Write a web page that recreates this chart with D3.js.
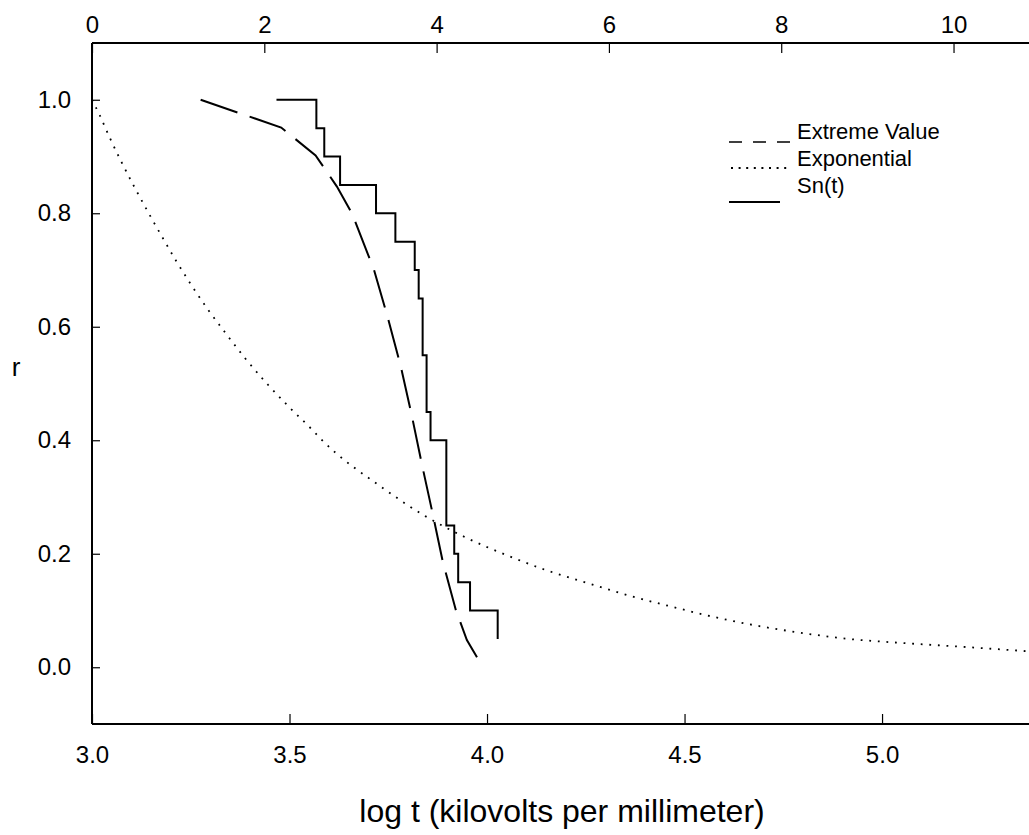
<!DOCTYPE html>
<html>
<head>
<meta charset="utf-8">
<script src="https://cdn.jsdelivr.net/npm/d3@7"></script>
<style>
  html, body { margin: 0; padding: 0; background: #fff; }
  svg { display: block; }
  text { font-family: "Liberation Sans", Arial, Helvetica, sans-serif; fill: #000; }
</style>
</head>
<body>
<svg id="chart" width="1029" height="835"></svg>
<script>
// ---- data ----
// Empirical survival function Sn(t): step positions (log t) and value after each step
const stepLogT = [3.467, 3.568, 3.588, 3.628, 3.719, 3.768, 3.817, 3.827, 3.837, 3.847, 3.857, 3.897, 3.917, 3.927, 3.957, 4.027];
const stepR    = [1.00, 0.95, 0.90, 0.85, 0.80, 0.75, 0.70, 0.65, 0.55, 0.45, 0.40, 0.25, 0.20, 0.15, 0.10, 0.05];

// Extreme value fit (dashed)
const evLogT = [3.275, 3.479, 3.566, 3.620, 3.658, 3.714, 3.750, 3.782, 3.810, 3.835, 3.862, 3.888, 3.921, 3.949, 3.977];
const evR    = [1.000, 0.951, 0.902, 0.847, 0.800, 0.700, 0.613, 0.529, 0.442, 0.358, 0.272, 0.186, 0.101, 0.048, 0.015];

// Exponential fit (dotted)
const expLogT = [3.000, 3.020, 3.047, 3.077, 3.109, 3.142, 3.177, 3.213, 3.252, 3.294, 3.339, 3.387, 3.440, 3.497, 3.558, 3.577,
                 3.740, 3.842, 3.945, 4.048, 4.150, 4.256, 4.361, 4.466, 4.572, 4.677, 4.782, 4.914, 5.046, 5.204, 5.372];
const expR    = [1.000, 0.972, 0.930, 0.887, 0.844, 0.802, 0.759, 0.716, 0.673, 0.630, 0.588, 0.545, 0.502, 0.460, 0.418, 0.404,
                 0.314, 0.267, 0.229, 0.198, 0.171, 0.148, 0.126, 0.107, 0.089, 0.074, 0.062, 0.050, 0.043, 0.036, 0.028];

// Axes
const xTicksBottom = [3.0, 3.5, 4.0, 4.5, 5.0];
const xTicksTop    = [0, 2, 4, 6, 8, 10];
const yTicks       = [0.0, 0.2, 0.4, 0.6, 0.8, 1.0];
const xDomain      = [3.0, 5.372];
const xTopDomain   = [0, 10.876];
const yDomain      = [-0.1, 1.1];

const legendLabels = ["Extreme Value", "Exponential", "Sn(t)"];
const xTitle = "log t (kilovolts per millimeter)";
const yTitle = "r";

// ---- layout ----
const W = 1029, H = 835;
const pLeft = 92, pRight = 1029, pTop = 43, pBottom = 724;

const svg = d3.select("#chart");
const x = d3.scaleLinear().domain(xDomain).range([pLeft, pRight]);
const xTop = d3.scaleLinear().domain(xTopDomain).range([pLeft, pRight]);
const y = d3.scaleLinear().domain(yDomain).range([pBottom, pTop]);

const tickFont = 24;

// bottom axis
const gB = svg.append("g").attr("transform", `translate(0,${pBottom})`)
  .call(d3.axisBottom(x).tickValues(xTicksBottom).tickFormat(d3.format(".1f")).tickSizeInner(-10).tickSizeOuter(0).tickPadding(22));
// top axis
const gT = svg.append("g").attr("transform", `translate(0,${pTop})`)
  .call(d3.axisTop(xTop).tickValues(xTicksTop).tickFormat(d3.format("d")).tickSizeInner(-10).tickSizeOuter(0).tickPadding(10));
// left axis
const gL = svg.append("g").attr("transform", `translate(${pLeft},0)`)
  .call(d3.axisLeft(y).tickValues(yTicks).tickFormat(d3.format(".1f")).tickSizeInner(-8).tickSizeOuter(0).tickPadding(21));

[gB, gT, gL].forEach(g => {
  g.attr("font-family", null).attr("font-size", null);
  g.select(".domain").attr("stroke", "#000").attr("stroke-width", 2);
  g.selectAll(".tick line").attr("stroke", "#000").attr("stroke-width", 1.2);
  g.selectAll(".tick text").attr("font-size", tickFont).attr("fill", "#000");
});
gB.select(".domain").attr("d", `M${pLeft},0H${pRight}`);
gT.select(".domain").attr("d", `M${pLeft},0H${pRight}`);
gL.select(".domain").attr("d", `M0,${pTop}V${pBottom}`);

// clip
svg.append("clipPath").attr("id", "plotclip").append("rect")
  .attr("x", pLeft).attr("y", pTop).attr("width", pRight - pLeft).attr("height", pBottom - pTop);
const plot = svg.append("g").attr("clip-path", "url(#plotclip)");

// exponential (dotted)
plot.append("path")
  .datum(d3.zip(expLogT, expR))
  .attr("fill", "none").attr("stroke", "#000").attr("stroke-width", 1.8)
  .attr("stroke-dasharray", "1.8 6.8")
  .attr("d", d3.line().x(d => x(d[0])).y(d => y(d[1])).curve(d3.curveMonotoneX));

// extreme value (dashed)
plot.append("path")
  .datum(d3.zip(evLogT, evR))
  .attr("fill", "none").attr("stroke", "#000").attr("stroke-width", 2)
  .attr("stroke-dasharray", "38.9 12.9")
  .attr("d", d3.line().x(d => x(d[0])).y(d => y(d[1])));

// Sn(t) step
plot.append("path")
  .datum(d3.zip(stepLogT, stepR))
  .attr("fill", "none").attr("stroke", "#000").attr("stroke-width", 2)
  .attr("d", d3.line().x(d => x(d[0])).y(d => y(d[1])).curve(d3.curveStepAfter));

// titles
svg.append("text").attr("x", 562).attr("y", 822).attr("text-anchor", "middle")
  .attr("font-size", 32).text(xTitle);
svg.append("text").attr("x", 16).attr("y", 376).attr("text-anchor", "middle")
  .attr("font-size", 26).text(yTitle);

// legend
const legX = 797;
const legY = [139, 166, 193];
const leg = svg.append("g");
leg.append("line").attr("x1", 729).attr("x2", 790).attr("y1", 142).attr("y2", 142)
  .attr("stroke", "#000").attr("stroke-width", 1.5).attr("stroke-dasharray", "13 11");
leg.append("line").attr("x1", 731).attr("x2", 791).attr("y1", 168).attr("y2", 168)
  .attr("stroke", "#000").attr("stroke-width", 2).attr("stroke-dasharray", "2 5.6");
leg.append("line").attr("x1", 729).attr("x2", 780).attr("y1", 202).attr("y2", 202)
  .attr("stroke", "#000").attr("stroke-width", 2);
leg.selectAll("text.lab").data(legendLabels).join("text")
  .attr("class", "lab").attr("x", legX).attr("y", (d, i) => legY[i])
  .attr("font-size", 22).text(d => d);
</script>
</body>
</html>
